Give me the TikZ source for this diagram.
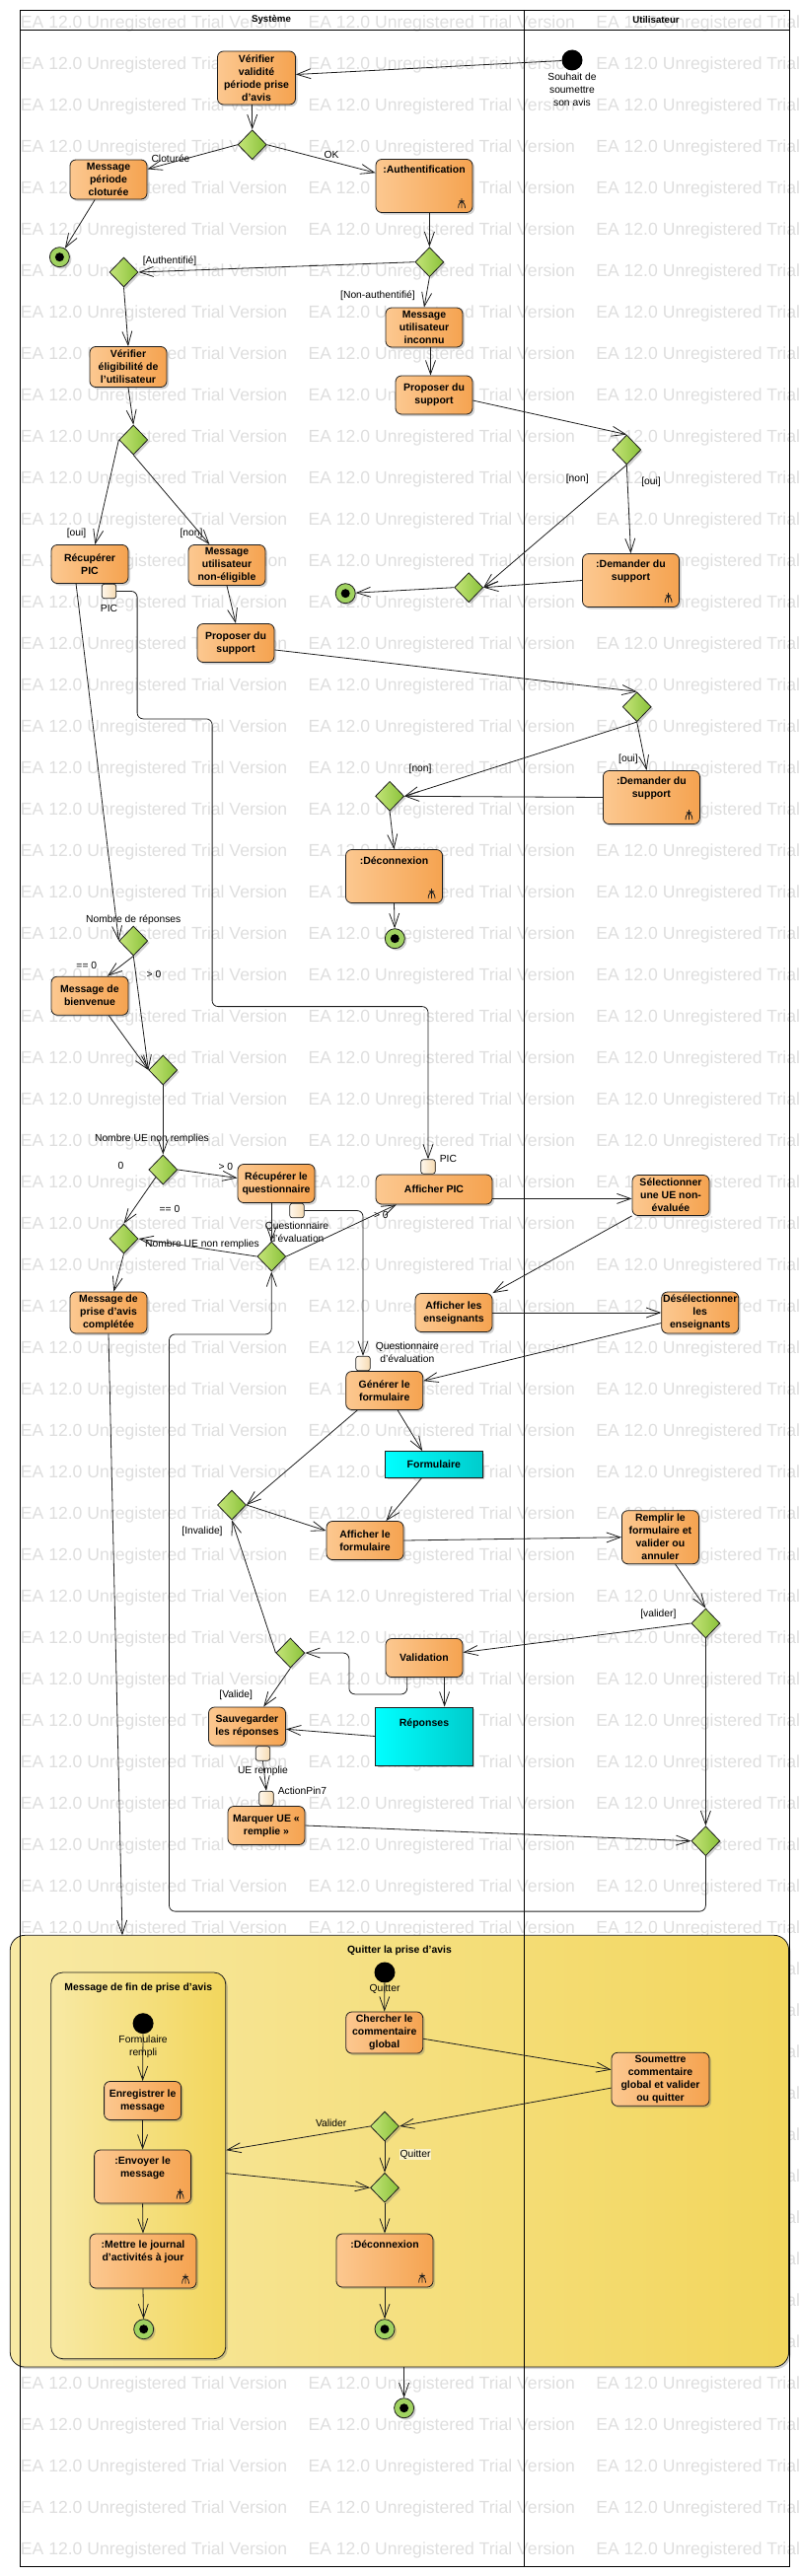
\documentclass[tikz,border=0pt]{standalone}
\usepackage{fontspec}
\setmainfont{Liberation Sans}
\usetikzlibrary{
    arrows.meta, % for the open UML arrow heads
    positioning, % for the pins next to their actions
    shadows, % for the drop shadows under the nodes
    shapes.geometric % for the decision diamonds
}
\definecolor{actleft}{RGB}{252,200,144}
\definecolor{actright}{RGB}{245,163,80}
\definecolor{decleft}{RGB}{196,228,120}
\definecolor{decright}{RGB}{138,194,58}
\definecolor{finfill}{RGB}{160,210,96}
\definecolor{objleft}{RGB}{0,255,255}
\definecolor{objright}{RGB}{0,204,204}
\definecolor{regleft}{RGB}{248,233,164}
\definecolor{regright}{RGB}{242,214,92}
\definecolor{pinleft}{RGB}{255,248,236}
\definecolor{pinright}{RGB}{246,218,178}
\definecolor{wmark}{RGB}{222,222,222}
\definecolor{edgecol}{RGB}{30,30,30}

\begin{document}
\begin{tikzpicture}[
    x=1pt,y=-1pt,>={Straight Barb[length=14pt,width=10pt]},
    every node/.style   = {inner sep=1pt},
    shadowed/.style     = {drop shadow={shadow xshift=2pt,shadow yshift=-2pt,opacity=0.3,fill=black!60}},
    actbox/.style       = {draw=edgecol,line width=0.8pt,rounded corners=6pt,left color=actleft,right color=actright,
                           minimum width=78pt,minimum height=39pt,align=center,
                           font=\fontsize{10.5}{13}\selectfont\bfseries,shadowed},
    callbox/.style      = {actbox,minimum width=98pt,minimum height=54pt,
                           path picture={
                               \draw [line width=0.8pt] ([xshift=-11pt,yshift=4.3pt]path picture bounding box.south east) -- ++(0pt,10pt)
                                   ([xshift=-14.3pt,yshift=4.3pt]path picture bounding box.south east) |- ++(6.7pt,7.4pt) -- ++(0pt,-7.4pt);}},
    calltext/.style     = {anchor=north,yshift=-5pt,inner sep=2pt,align=center,font=\fontsize{10.5}{13}\selectfont\bfseries},
    objbox/.style       = {draw=edgecol,line width=0.8pt,left color=objleft,right color=objright,
                           font=\fontsize{10.5}{13}\selectfont\bfseries,shadowed},
    actpin/.style       = {rectangle,draw=edgecol,line width=0.7pt,rounded corners=2.5pt,left color=pinleft,right color=pinright,
                           minimum width=14.5pt,minimum height=14.5pt,inner sep=0pt},
    decision/.style     = {diamond,draw=edgecol,line width=0.8pt,left color=decleft,right color=decright,
                           minimum width=29pt,minimum height=30pt,inner sep=0pt,shadowed},
    startnode/.style    = {circle,fill=black,minimum size=21pt,inner sep=0pt},
    endnode/.style      = {circle,draw=edgecol,line width=0.8pt,fill=finfill,minimum size=20pt,inner sep=0pt,shadowed,
                           path picture={\fill [black] (path picture bounding box.center) circle (4.5pt);}},
    regionbox/.style    = {draw=edgecol,line width=0.8pt,rounded corners=15pt,left color=regleft,right color=regright,shadowed},
    regiontitle/.style  = {anchor=north,inner sep=2pt,font=\fontsize{10.4}{13}\selectfont\bfseries},
    guard/.style        = {font=\fontsize{10.3}{13}\selectfont,align=center,inner sep=1pt},
    watermark/.style    = {text=wmark,font=\fontsize{17.6}{20}\selectfont,anchor=base west,inner sep=0pt},
    lanetitle/.style    = {font=\fontsize{9.7}{12}\selectfont\bfseries},
    lane/.style         = {draw=black,line width=0.9pt},
    flow/.style         = {draw=edgecol,line width=0.8pt,->}
]
\useasboundingbox (0,0) rectangle (810,2612);

% trial watermark behind everything
\begin{scope}
    \clip (0,0) rectangle (810,2612);
    \foreach \row in {0,...,61}
        \foreach \col in {0,1,2}
            \node [watermark] (wm-\row-\col) at (20.7+291.7*\col,28.3+42*\row) {EA 12.0 Unregistered Trial Version};
\end{scope}

% Quitter la prise d'avis (regions, under the lanes)
    \node [regionbox,minimum width=789.3pt,minimum height=437.7pt,
           label={[regiontitle,yshift=-8.6pt]north:Quitter la prise d'avis}]            (quit)   at (404.95,2181.15) {};
    \node [regionbox,rounded corners=12pt,minimum width=177.1pt,minimum height=391.7pt,
           label={[regiontitle,yshift=-9.2pt]north:Message de fin de prise d'avis}]     (endmsg) at (140.25,2195.85) {};

% swimlanes
    \draw [lane] (20.7,10) rectangle (800,2602);
    \draw [lane] (20.7,30) -- (800,30);
    \draw [lane] (531,10) -- (531,2602);
    \node [lanetitle] (sys) at (275,20) {Système};
    \node [lanetitle] (usr) at (665,20) {Utilisateur};

% period and authentication
    \node [startnode,label={[guard,label distance=1pt]below:{Souhait de\\soumettre\\son avis}}] (start) at (580,61) {};
    \node [actbox,minimum width=79pt,minimum height=54pt] (verif)   at (260,79)      {Vérifier\\validité\\période prise\\d'avis};
    \node [decision]                                      (dperiod) at (255.7,146.7) {};
    \node [actbox,minimum height=40pt]                    (msgclot) at (110,182)     {Message\\période\\cloturée};
    \node [callbox,label={[calltext]north:{:Authentification}}] (auth) at (430,188.5) {};
    \node [endnode]                                       (end1)    at (60.4,260.7)  {};
    \node [decision]                                      (dauth)   at (435.4,265.7) {};
    \node [decision]                                      (dok)     at (125.5,276)   {};
    \node [actbox,minimum height=40pt]                    (msginc)  at (430,332)     {Message\\utilisateur\\inconnu};
    \node [actbox]                                        (suppA)   at (440,400.5)   {Proposer du\\support};
    \node [decision]                                      (dsuppA)  at (635.3,456)   {};
    \node [callbox,label={[calltext]north:{:Demander du\\support}}] (askA) at (639.5,588.5) {};
    \node [decision]                                      (dmergeA) at (475.2,595.7) {};
    \node [endnode]                                       (end2)    at (350.2,601.7) {};

% eligibility
    \node [actbox,minimum height=41pt] (elig)     at (130,372)   {Vérifier\\éligibilité de\\l'utilisateur};
    \node [decision]                   (delig)    at (135.3,446) {};
    \node [actbox]                     (getpic)   at (91,572)    {Récupérer\\PIC};
    \node [actpin] (picout) [below=0pt of getpic,xshift=19.5pt,label={[guard,label distance=5pt]below:PIC}] {};
    \node [actbox,minimum height=41pt] (msgnonel) at (230,573)   {Message\\utilisateur\\non-éligible};
    \node [actbox]                     (suppB)    at (239,652)   {Proposer du\\support};
    \node [decision]                   (dsuppB)   at (645.7,716.7) {};
    \node [callbox,label={[calltext]north:{:Demander du\\support}}] (askB) at (660.4,808.5) {};
    \node [decision]                   (dmergeB)  at (395.1,807.3) {};
    \node [callbox,label={[calltext]north:{:Déconnexion}}] (logoutA) at (399.5,888.5) {};
    \node [endnode]                    (end3)     at (400.3,951.7) {};

% questionnaire
    \node [decision,label={[guard]above:Nombre de réponses}] (dnb) at (135.3,954) {};
    \node [actbox]                     (welcome)  at (91,1009.7)  {Message de\\bienvenue};
    \node [decision]                   (dwelcome) at (165.3,1085) {};
    \node [decision]                   (dleft)    at (165.3,1186) {};
    \node [actbox]                     (getq)     at (280,1200)   {Récupérer le\\questionnaire};
    \node [actpin] (qout) [below=0pt of getq,xshift=21pt,label={[guard,label distance=3pt]below:{Questionnaire\\d'évaluation}}] {};
    \node [actbox,minimum width=118pt,minimum height=30pt] (showpic) at (440,1206) {Afficher PIC};
    \node [actpin] (picin) [above=0pt of showpic,xshift=-6pt,label={[guard,anchor=west,xshift=3pt]north east:PIC}] {};
    \node [actbox,minimum height=41pt] (selue)    at (680,1212)   {Sélectionner\\une UE non-\\évaluée};
    \node [decision]                   (ddone)    at (125.5,1256) {};
    \node [decision]                   (dloop)    at (275.3,1274) {};
    \node [actbox,minimum height=42pt] (msgdone)  at (110,1331)   {Message de\\prise d'avis\\complétée};
    \node [actbox]                     (showens)  at (460,1331)   {Afficher les\\enseignants};
    \node [actbox,minimum height=42pt] (unsel)    at (709.7,1331) {Désélectionner\\les\\enseignants};
    \node [actbox]                     (genform)  at (389.7,1410) {Générer le\\formulaire};
    \node [actpin] (qin) [above=0pt of genform,xshift=-21.7pt,label={[guard,anchor=south west,xshift=4pt]east:{Questionnaire\\d'évaluation}}] {};
    \node [objbox,minimum width=98.5pt,minimum height=26.7pt] (form) at (439.8,1485) {Formulaire};

% form filling
    \node [decision]                   (dcheck)     at (235,1526)      {};
    \node [actbox]                     (showform)   at (370,1562)      {Afficher le\\formulaire};
    \node [actbox,minimum height=54pt] (fillform)   at (669.4,1558.7)  {Remplir le\\formulaire et\\valider ou\\annuler};
    \node [decision]                   (dvalid)     at (715.4,1646)    {};
    \node [actbox]                     (validation) at (430,1681)      {Validation};
    \node [decision]                   (dres)       at (294.4,1676)    {};
    \node [actbox]                     (save)       at (250.5,1750.5)  {Sauvegarder\\les réponses};
    \node [actpin] (ueout) [below=0pt of save,xshift=16pt,label={[guard,label distance=4pt]below:UE remplie}] {};
    \node [objbox,minimum width=98.6pt,minimum height=59pt,label={[calltext,yshift=-4.6pt]north:Réponses}] (answers) at (430,1760.5) {};
    \node [actbox]                     (mark)       at (270,1851)      {Marquer UE «\\remplie »};
    \node [actpin] (uein) [above=0pt of mark,label={[guard,anchor=west,xshift=3pt]north east:ActionPin7}] {};
    \node [decision]                   (dnext)      at (715.4,1866.7)  {};

% end of the session (inside the regions)
    \node [startnode,label={[guard,label distance=0pt]below:{Formulaire\\rempli}}] (start3) at (145.1,2051.7) {};
    \node [actbox]  (store) at (144.6,2130) {Enregistrer le\\message};
    \node [callbox,label={[calltext]north:{:Envoyer le\\message}}] (send) at (144.6,2207) {};
    \node [callbox,minimum width=108pt,minimum height=55pt,label={[calltext]north:{:Mettre le journal\\d'activités à jour}}] (log) at (145,2292.5) {};
    \node [endnode] (end4)  at (145.7,2361.7) {};
    \node [startnode,label={[guard,label distance=0pt]below:Quitter}] (start2) at (390,2000) {};
    \node [actbox,minimum height=42pt] (search) at (389.7,2061) {Chercher le\\commentaire\\global};
    \node [actbox,minimum width=99pt,minimum height=54pt] (submit) at (669.5,2108.3) {Soumettre\\commentaire\\global et valider\\ou quitter};
    \node [decision] (dsubmit) at (390,2156)   {};
    \node [decision] (dquit)   at (390,2218.3) {};
    \node [callbox,label={[calltext]north:{:Déconnexion}}] (logoutB) at (390,2292) {};
    \node [endnode]  (end5)    at (390,2361.7) {};
    \node [endnode]  (end6)    at (409.6,2441.7) {};

% guards
    \node [guard] (g-clot)    at (173,160.7)   {Cloturée};
    \node [guard] (g-ok)      at (336,156.7)   {OK};
    \node [guard] (g-auth)    at (172,265)     {[Authentifié]};
    \node [guard] (g-nonauth) at (383,300)     {[Non-authentifié]};
    \node [guard] (g-ouiA)    at (660,489)     {[oui]};
    \node [guard] (g-nonA)    at (585.2,485.7) {[non]};
    \node [guard] (g-ouiE)    at (77.5,541)    {[oui]};
    \node [guard] (g-nonE)    at (194,541)     {[non]};
    \node [guard] (g-ouiB)    at (636.9,770)   {[oui]};
    \node [guard] (g-nonB)    at (426.1,780)   {[non]};
    \node [guard] (g-zeroA)   at (87.8,978.7)  {== 0};
    \node [guard] (g-posA)    at (156,987.7)   {> 0};
    \node [guard] (g-nbue)    at (153.9,1155)  {Nombre UE non remplies};
    \node [guard] (g-zero)    at (122.4,1181.7) {0};
    \node [guard] (g-posB)    at (228.8,1183.3) {> 0};
    \node [guard] (g-zeroB)   at (172,1226)    {== 0};
    \node [guard] (g-nbueB)   at (205,1261.7)  {Nombre UE non remplies};
    \node [guard] (g-posC)    at (386.4,1232.3) {> 0};
    \node [guard] (g-inval)   at (205,1552.7)  {[Invalide]};
    \node [guard] (g-valider) at (667.4,1636.7) {[valider]};
    \node [guard] (g-valide)  at (239.2,1719.3) {[Valide]};
    \node [guard] (g-val)     at (335.7,2152.7) {Valider};
    \node [guard,fill=regleft!60!white] (g-quit) at (421,2184.3) {Quitter};

% flows: period and authentication
    \draw [flow] (start) -- (verif.5);
    \draw [flow] (verif.south -| dperiod.north) -- (dperiod.north);
    \draw [flow] (dperiod.west) -- (msgclot.15);
    \draw [flow] (dperiod.east) -- (auth.165);
    \draw [flow] (msgclot.-124) -- (end1);
    \draw [flow] (auth.south -| dauth.north) -- (dauth.north);
    \draw [flow] (dauth.west) -- (dok.east);
    \draw [flow] (dauth.south) -- (msginc.north);
    \draw [flow] (msginc.south -| suppA.100) -- (suppA.100);
    \draw [flow] (suppA.-8) -- (dsuppA.north);
    \draw [flow] (dsuppA.south) -- (askA.north);
    \draw [flow] (dsuppA.south) -- (dmergeA.east);
    \draw [flow] (askA.west) -- (dmergeA.east);
    \draw [flow] (dmergeA.west) -- (end2);

% flows: eligibility
    \draw [flow] (dok.south) -- (elig.north);
    \draw [flow] (elig.south) -- (delig.north);
    \draw [flow] (delig.west) -- (getpic.75);
    \draw [flow] (delig.south) -- (msgnonel.130);
    \draw [flow] (msgnonel.south) -- (suppB.north);
    \draw [flow] (suppB.-10) -- (dsuppB.north);
    \draw [flow] (dsuppB.south) -- (askB.100);
    \draw [flow] (dsuppB.south) -- (dmergeB.east);
    \draw [flow] (askB.west) -- (dmergeB.east);
    \draw [flow] (dmergeB.south) -- (logoutA.north);
    \draw [flow] (logoutA.south) -- (end3);
    \draw [flow,rounded corners=6pt] (picout.east) -- ++(21,0) -- ++(0,129.4) -- ++(76,0) -- ++(0,291.7) -| (picin.north);

% flows: questionnaire
    \draw [flow] (getpic.-125) -- (dnb.west);
    \draw [flow] (dnb.south) -- (welcome.48);
    \draw [flow] (dnb.south) -- (dwelcome.west);
    \draw [flow] (welcome.-46) -- (dwelcome.west);
    \draw [flow] (dwelcome.south) -- (dleft.north);
    \draw [flow] (dleft.east) -- (getq.172);
    \draw [flow] (dleft.south west) -- (ddone.north);
    \draw [flow] (getq.south -| dloop.north) -- (dloop.north);
    \draw [flow,rounded corners=6pt] (qout.east) -| (qin.north);
    \draw [flow] (dloop.west) -- (ddone.east);
    \draw [flow] (dloop.east) -- (showpic.-158);
    \draw [flow] (ddone.south) -- (msgdone.76);
    \draw [flow] (showpic.-9) -- (showpic.-9 -| selue.west);
    \draw [flow] (selue.south west) -- (showens.north east);
    \draw [flow] (showens.east) -- (unsel.west);
    \draw [flow] (unsel.-165) -- (genform.14);
    \draw [flow] (genform.-56) -- (form.130);
    \draw [flow] (genform.-144) -- (dcheck.east);

% flows: form filling
    \draw [flow] (form.-132) -- (showform.43);
    \draw [flow] (dcheck.east) -- (showform.166);
    \draw [flow] (showform.east) -- (fillform.west);
    \draw [flow] (fillform.-61) -- (dvalid.north);
    \draw [flow] (dvalid.west) -- (validation.8);
    \draw [flow] (dvalid.south) -- (dnext.north);
    \draw [flow,rounded corners=6pt] (validation.-131) -- ++(0,17) -- ++(-58.8,0) |- (dres.east);
    \draw [flow] (validation.-44) -- (validation.-44 |- answers.north);
    \draw [flow] (dres.west) -- (dcheck.south);
    \draw [flow] (dres.south) -- (save.50);
    \draw [flow] (answers.west) -- (save.-4);
    \draw [flow] (ueout.south) -- (uein.north);
    \draw [flow] (mark.east) -- (dnext.west);
    \draw [flow,rounded corners=6pt] (dnext.south) -- ++(0,56) -- ++(-543.9,0) -- ++(0,-585.2) -| (dloop.south);
    \coordinate (quitin) at (124,1962.3);
    \draw [flow] (msgdone.south) -- (quitin);

% flows: end of the session
    \draw [flow] (start3) -- (store.north);
    \draw [flow] (store.south) -- (send.north);
    \draw [flow] (send.south) -- (log.north);
    \draw [flow] (log.south) -- (end4);
    \draw [flow] (start2) -- (search.north);
    \draw [flow] (search.-9) -- (submit.169);
    \draw [flow] (submit.-170) -- (dsubmit.east);
    \draw [flow] (dsubmit.west) -- (endmsg.10);
    \draw [flow] (endmsg.-5) -- (dquit.west);
    \draw [flow] (dsubmit.south) -- (dquit.north);
    \draw [flow] (dquit.south) -- (logoutB.north);
    \draw [flow] (logoutB.south) -- (end5);
    \draw [flow] (end6 |- quit.south) -- (end6);

\end{tikzpicture}
\end{document}
